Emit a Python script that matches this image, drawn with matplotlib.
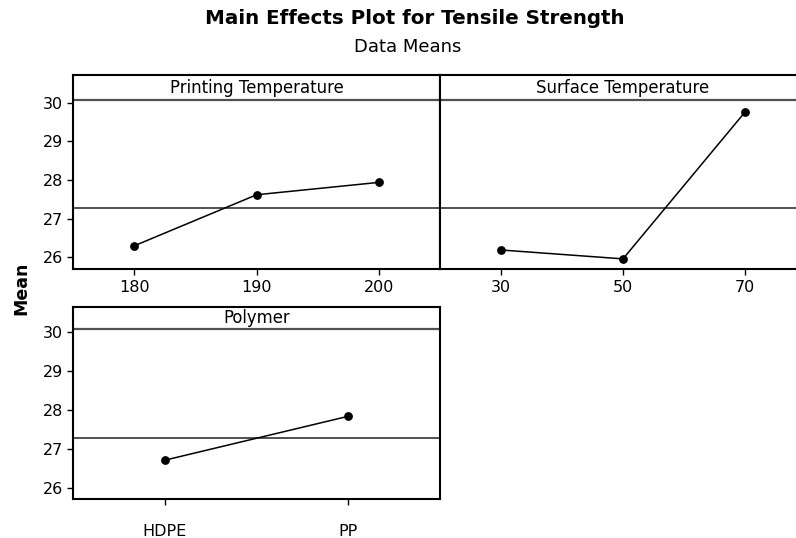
import numpy as np
import matplotlib
matplotlib.use('Agg')
import matplotlib.pyplot as plt

# ---------- data ---------- #

grand_mean = 27.28 # overall mean of tensile strength

print_temp_levels = ['180', '190', '200']
print_temp_means = [26.30, 27.62, 27.94]

surf_temp_levels = ['30', '50', '70']
surf_temp_means = [26.19, 25.96, 29.76]

polymer_levels = ['HDPE', 'PP']
polymer_means = [26.71, 27.84]

# ---------- figure setup ---------- #

plt.rcParams['font.family'] = 'DejaVu Sans'
W, H = 796, 538
fig = plt.figure(figsize=(W/100, H/100), dpi=100)

def frac(x0, y0, x1, y1): # pixel box -> figure fraction
	return [x0/W, 1-y1/H, (x1-x0)/W, (y1-y0)/H]

mean_col = '#505050'
tick_size = 11.5

def panel(rect, levels, means, title, ylim, strip_y, show_y=True, xpad=3.5):
	ax = fig.add_axes(rect)
	x = np.arange(len(levels))
	ax.plot(x, means, color='black', lw=1.1, marker='o', ms=5.3, zorder=3)
	ax.axhline(grand_mean, color=mean_col, lw=1.4, zorder=2)
	ax.axhline(strip_y, color=mean_col, lw=1.6, zorder=2)
	ax.text(np.mean(x), (strip_y+ylim[1])/2, title, ha='center', va='center', fontsize=11.9)
	ax.set_xlim(-0.5, len(levels)-0.5)
	ax.set_ylim(*ylim)
	ax.set_xticks(x)
	ax.set_xticklabels(levels)
	ax.tick_params(axis='x', length=4, width=1, pad=3.5 if xpad is None else xpad, labelsize=tick_size)
	if show_y:
		ax.set_yticks([26, 27, 28, 29, 30])
		ax.tick_params(axis='y', length=4.5, width=1, pad=3, labelsize=tick_size)
	else:
		ax.set_yticks([])
	for s in ax.spines.values():
		s.set_linewidth(1.5)
	return ax

panel(frac(73.3, 75, 440, 269.3), print_temp_levels, print_temp_means,
	'Printing Temperature', (25.69, 30.72), 30.07)
panel(frac(440, 75, 806, 269.3), surf_temp_levels, surf_temp_means,
	'Surface Temperature', (25.69, 30.72), 30.07, show_y=False)
panel(frac(73.3, 306.7, 440, 499), polymer_levels, polymer_means,
	'Polymer', (25.71, 30.66), 30.085, xpad=14)

# ---------- titles ---------- #

fig.text(415/W, 1-19/H, 'Main Effects Plot for Tensile Strength',
	ha='center', va='center', fontsize=14.3, fontweight='bold')
fig.text(408/W, 1-47/H, 'Data Means', ha='center', va='center', fontsize=13)
fig.text(21/W, 1-288/H, 'Mean', ha='center', va='center', rotation=90,
	fontsize=12.5, fontweight='bold')

fig.savefig('out.png', dpi=100)
plt.close()
